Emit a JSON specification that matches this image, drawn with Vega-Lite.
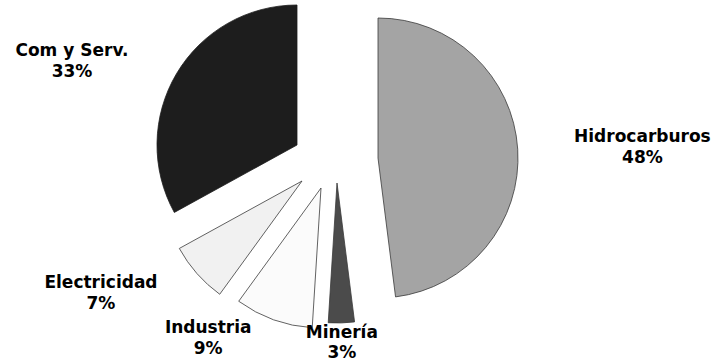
{
  "$schema": "https://vega.github.io/schema/vega-lite/v6.json",
  "width": 676,
  "height": 324,
  "autosize": {"type": "none"},
  "padding": {"left": 0, "top": 0, "right": 42, "bottom": 40},
  "background": "white",
  "config": {"view": {"stroke": null}},
  "data": {
    "values": [
      {"cat": "Hidrocarburos", "value": 0.48, "order": 1, "label": "Hidrocarburos\n48%"},
      {"cat": "Minería", "value": 0.03, "order": 2, "label": "Minería\n3%"},
      {"cat": "Industria", "value": 0.09, "order": 3, "label": "Industria\n9%"},
      {"cat": "Electricidad", "value": 0.07, "order": 4, "label": "Electricidad\n7%"},
      {"cat": "Com y Serv.", "value": 0.33, "order": 5, "label": "Com y Serv.\n33%"}
    ]
  },
  "encoding": {
    "theta": {"field": "value", "type": "quantitative", "stack": true},
    "order": {"field": "order", "type": "quantitative"}
  },
  "layer": [
    {
      "mark": {"type": "arc", "radius": 140, "xOffset": 40, "yOffset": -4, "stroke": "#3a3a3a", "strokeWidth": 0.8},
      "encoding": {
        "color": {"field": "cat", "type": "nominal", "legend": null,
          "scale": {"domain": ["Hidrocarburos", "Minería", "Industria", "Electricidad", "Com y Serv."], "range": ["#a4a4a4", "#4b4b4b", "#fbfbfb", "#f1f1f1", "#1d1d1d"]}},
        "opacity": {"condition": {"test": "datum.cat === 'Hidrocarburos'", "value": 1}, "value": 0}
      }
    },
    {
      "mark": {"type": "arc", "radius": 140, "xOffset": -1, "yOffset": 21, "stroke": "#3a3a3a", "strokeWidth": 0.8},
      "encoding": {
        "color": {"field": "cat", "type": "nominal", "legend": null},
        "opacity": {"condition": {"test": "datum.cat === 'Minería'", "value": 1}, "value": 0}
      }
    },
    {
      "mark": {"type": "arc", "radius": 140, "xOffset": -17, "yOffset": 26, "stroke": "#3a3a3a", "strokeWidth": 0.8},
      "encoding": {
        "color": {"field": "cat", "type": "nominal", "legend": null},
        "opacity": {"condition": {"test": "datum.cat === 'Industria'", "value": 1}, "value": 0}
      }
    },
    {
      "mark": {"type": "arc", "radius": 140, "xOffset": -36, "yOffset": 19, "stroke": "#3a3a3a", "strokeWidth": 0.8},
      "encoding": {
        "color": {"field": "cat", "type": "nominal", "legend": null},
        "opacity": {"condition": {"test": "datum.cat === 'Electricidad'", "value": 1}, "value": 0}
      }
    },
    {
      "mark": {"type": "arc", "radius": 140, "xOffset": -41, "yOffset": -17, "stroke": "#1d1d1d", "strokeWidth": 0.8},
      "encoding": {
        "color": {"field": "cat", "type": "nominal", "legend": null},
        "opacity": {"condition": {"test": "datum.cat === 'Com y Serv.'", "value": 1}, "value": 0}
      }
    },
    {
      "mark": {"type": "text", "radius": 304, "xOffset": 1, "yOffset": -6, "font": "DejaVu Sans", "fontWeight": "bold", "fontSize": 17, "lineHeight": 21, "lineBreak": "\n", "align": "center", "baseline": "middle", "color": "black"},
      "encoding": {
        "text": {"field": "label"},
        "opacity": {"condition": {"test": "datum.cat === 'Hidrocarburos'", "value": 1}, "value": 0}
      }
    },
    {
      "mark": {"type": "text", "radius": 187, "xOffset": -2, "yOffset": -16, "font": "DejaVu Sans", "fontWeight": "bold", "fontSize": 17, "lineHeight": 20, "lineBreak": "\n", "align": "center", "baseline": "middle", "color": "black"},
      "encoding": {
        "text": {"field": "label"},
        "opacity": {"condition": {"test": "datum.cat === 'Minería'", "value": 1}, "value": 0}
      }
    },
    {
      "mark": {"type": "text", "radius": 209, "xOffset": -59, "yOffset": -31, "font": "DejaVu Sans", "fontWeight": "bold", "fontSize": 17, "lineHeight": 21, "lineBreak": "\n", "align": "center", "baseline": "middle", "color": "black"},
      "encoding": {
        "text": {"field": "label"},
        "opacity": {"condition": {"test": "datum.cat === 'Industria'", "value": 1}, "value": 0}
      }
    },
    {
      "mark": {"type": "text", "radius": 264, "xOffset": -39, "yOffset": -54, "font": "DejaVu Sans", "fontWeight": "bold", "fontSize": 17, "lineHeight": 21, "lineBreak": "\n", "align": "center", "baseline": "middle", "color": "black"},
      "encoding": {
        "text": {"field": "label"},
        "opacity": {"condition": {"test": "datum.cat === 'Electricidad'", "value": 1}, "value": 0}
      }
    },
    {
      "mark": {"type": "text", "radius": 280, "xOffset": -25, "yOffset": 32, "font": "DejaVu Sans", "fontWeight": "bold", "fontSize": 17, "lineHeight": 21, "lineBreak": "\n", "align": "center", "baseline": "middle", "color": "black"},
      "encoding": {
        "text": {"field": "label"},
        "opacity": {"condition": {"test": "datum.cat === 'Com y Serv.'", "value": 1}, "value": 0}
      }
    }
  ]
}
